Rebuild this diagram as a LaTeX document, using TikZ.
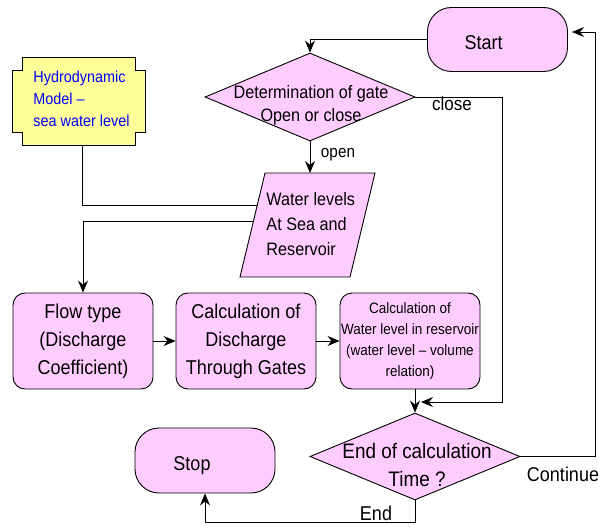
\documentclass[tikz,border=0pt]{standalone}
\usepackage{fontspec}
\setmainfont{Liberation Sans}[FakeStretch=0.9]
\usetikzlibrary{arrows.meta,shapes.geometric,calc}
\definecolor{pinkfill}{HTML}{FFCCFF}
\definecolor{yellowfill}{HTML}{FFFF99}
\definecolor{hblue}{HTML}{0000FF}
\newcommand{\fsz}[2]{\fontsize{#1}{#2}\selectfont}
\begin{document}
\begin{tikzpicture}[x=1pt,y=-1pt, line width=0.9pt,
  box/.style={draw, fill=pinkfill, rounded corners=12pt, minimum width=140pt, minimum height=96pt, inner sep=0pt, align=center},
  term/.style={draw, fill=pinkfill, rounded corners=24pt, minimum width=140pt, minimum height=64pt, inner sep=0pt},
  dec/.style={draw, fill=pinkfill, diamond, inner sep=0pt, minimum width=210pt, minimum height=88pt},
  arr/.style={-{Stealth[length=12pt,width=10pt,inset=4pt]}},
  lab/.style={inner sep=0pt, font=\fsz{19}{22}},
  ttext/.style={inner sep=0pt, align=center}
]
\useasboundingbox (0,0) rectangle (609,529);

% Hydrodynamic model (notched box)
\draw[fill=yellowfill] (22,57) -- (135,57) -- (135,70) -- (145,70) -- (145,132) -- (135,132) -- (135,145) -- (22,145) -- (22,132) -- (12,132) -- (12,70) -- (22,70) -- cycle;
\node[anchor=west, align=left, text=hblue, font=\fsz{16}{22}, inner sep=0pt] (hydro) at (33,99) {Hydrodynamic\\Model –\\sea water level};
\coordinate (hydrob) at (82,145);

% Water levels parallelogram
\coordinate (pTL) at (265,173);
\coordinate (pTR) at (375,173);
\coordinate (pBR) at (350,277);
\coordinate (pBL) at (240,277);
\draw[fill=pinkfill] (pTL) -- (pTR) -- (pBR) -- (pBL) -- cycle;
\node[anchor=west, align=left, font=\fsz{18}{25}, inner sep=0pt] (wl) at (266,224) {Water levels\\At Sea and\\Reservoir};
\coordinate (pin1) at ($(pTL)!0.3077!(pBL)$);
\coordinate (pin2) at ($(pTL)!0.4615!(pBL)$);
\coordinate (ptop) at (310,173);

% Terminals
\node[term] (start) at (497.5,39.5) {};
\node[ttext, font=\fsz{20}{24}] (startt) at (483.5,42.5) {Start};
\node[term, minimum height=65pt] (stop) at (205,460.5) {};
\node[ttext, font=\fsz{20}{24}] (stopt) at (192,466) {Stop};

% Decisions
\node[dec] (d1) at (310,97) {};
\node[ttext, font=\fsz{18}{23}] (d1t) at (311,105) {Determination of gate\\Open or close};
\node[dec, minimum height=87pt] (d2) at (415,456.5) {};
\node[ttext, font=\fsz{21}{28}] (d2t) at (417,465) {End of calculation\\Time ?};

% Process boxes
\node[box, font=\fsz{20}{28}] (flow) at (83,341) {Flow type\\(Discharge\\Coefficient)};
\node[box, font=\fsz{20}{28}] (disch) at (246,341) {Calculation of\\Discharge\\Through Gates};
\node[box, font=\fsz{15}{21}] (wlev) at (410,341) {Calculation of\\Water level in reservoir\\(water level – volume\\relation)};

% Connectors
\coordinate (closeend) at (421,402);
\coordinate (contend) at (572,32);
\draw[arr] (start.west) -| (d1.north);
\draw[arr] (d1.south) -- (ptop);
\draw[arr] (d1.east) -- ++(87,0) |- (closeend);
\draw (hydrob) |- (pin1);
\draw[arr] (pin2) -| (flow.north);
\draw[arr] (flow.east) -- (disch.west);
\draw[arr] (disch.east) -- (wlev.west);
\draw[arr] (wlev.south -| d2.north) -- (d2.north);
\draw[arr] (d2.east) -- ++(75,0) |- (contend);
\draw[arr] (d2.south) -- ++(0,22) -| (stop.south);

% Labels
\node[lab] (closel) at (452,104) {close};
\node[lab, font=\fsz{17}{20}] (openl) at (338,155) {open};
\node[lab, font=\fsz{20}{24}] (contl) at (563,474) {Continue};
\node[lab, font=\fsz{20}{24}] (endl) at (376,513) {End};
\end{tikzpicture}
\end{document}
